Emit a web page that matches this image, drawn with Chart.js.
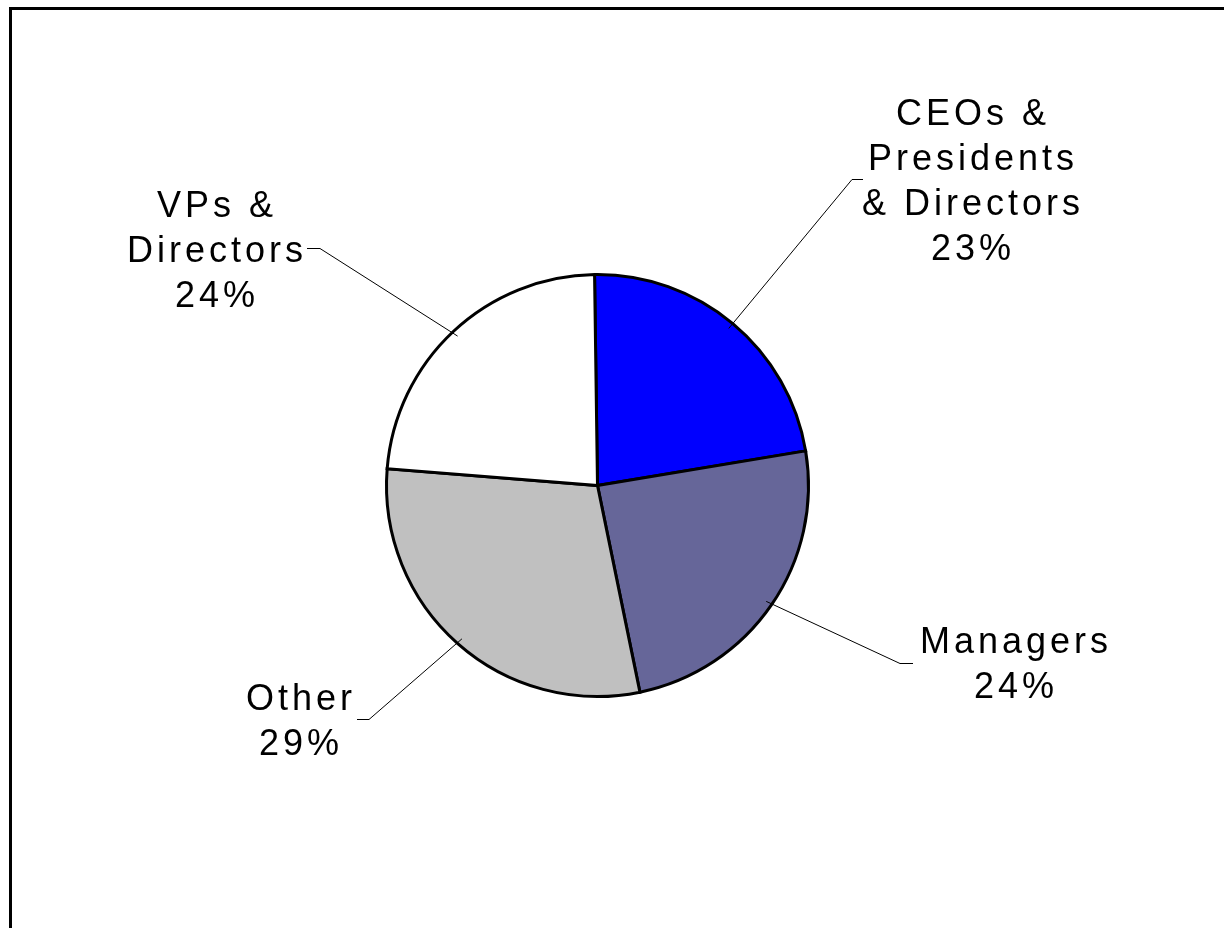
<!DOCTYPE html>
<html>
<head>
<meta charset="utf-8">
<script src="https://cdn.jsdelivr.net/npm/chart.js@4/dist/chart.umd.min.js"></script>
<style>
html,body{margin:0;padding:0;background:#fff;}
#wrap{position:relative;width:1224px;height:928px;}
</style>
</head>
<body>
<div id="wrap"><canvas id="c" width="1224" height="928"></canvas></div>
<script>
const categories = ["CEOs & Presidents & Directors", "Managers", "Other", "VPs & Directors"];
const labelLines = [["CEOs &", "Presidents", "& Directors"], ["Managers"], ["Other"], ["VPs &", "Directors"]];
const values = [22.6, 24.4, 29.49, 23.51];
const colors = ["#0000FF", "#666699", "#C0C0C0", "#FFFFFF"];

// label layout (text block anchor: center x, first baseline y) and leader lines
const labelPos = [
  {x: 971, y: 125, leader: [[863, 179], [852, 179]]},
  {x: 1014, y: 653, leader: [[913, 663], [900, 663]]},
  {x: 299, y: 710, leader: [[357, 719], [369, 719]]},
  {x: 215, y: 217, leader: [[307, 248], [320, 248]]}
];

const total = values.reduce((a, b) => a + b, 0);

const labelPlugin = {
  id: 'labels',
  afterDraw(chart) {
    const ctx = chart.ctx;
    const meta = chart.getDatasetMeta(0);
    ctx.save();
    // frame
    ctx.strokeStyle = '#000';
    ctx.lineWidth = 3;
    ctx.beginPath();
    ctx.moveTo(1230, 8.5);
    ctx.lineTo(10.5, 8.5);
    ctx.lineTo(10.5, 935);
    ctx.stroke();

    ctx.font = '36px "Liberation Sans", Arial, sans-serif';
    ctx.fillStyle = '#000';
    ctx.textAlign = 'center';
    ctx.textBaseline = 'alphabetic';
    if ('letterSpacing' in ctx) ctx.letterSpacing = '4px';
    meta.data.forEach((arc, i) => {
      const p = labelPos[i];
      const lines = labelLines[i].concat([Math.round(values[i] / total * 100) + '%']);
      lines.forEach((ln, k) => {
        ctx.fillText(ln, p.x + 2, p.y + k * 45);
      });
      // leader line: from label stub to arc edge at mid-angle
      const mid = (arc.startAngle + arc.endAngle) / 2;
      const r = arc.outerRadius * 0.97;
      const ex = arc.x + Math.cos(mid) * r;
      const ey = arc.y + Math.sin(mid) * r;
      ctx.lineWidth = 1;
      ctx.beginPath();
      ctx.moveTo(p.leader[0][0], p.leader[0][1] + 0.5);
      ctx.lineTo(p.leader[1][0], p.leader[1][1] + 0.5);
      ctx.lineTo(ex, ey);
      ctx.stroke();
    });
    ctx.restore();
  }
};

new Chart(document.getElementById('c'), {
  type: 'pie',
  data: {
    labels: categories,
    datasets: [{
      data: values,
      backgroundColor: colors,
      borderColor: '#000',
      borderWidth: 3,
      borderJoinStyle: 'miter'
    }]
  },
  options: {
    responsive: false,
    animation: false,
    rotation: -0.8,
    layout: {padding: {left: 385, right: 414, top: 273, bottom: 230}},
    plugins: {legend: {display: false}, tooltip: {enabled: false}}
  },
  plugins: [labelPlugin]
});
</script>
</body>
</html>
